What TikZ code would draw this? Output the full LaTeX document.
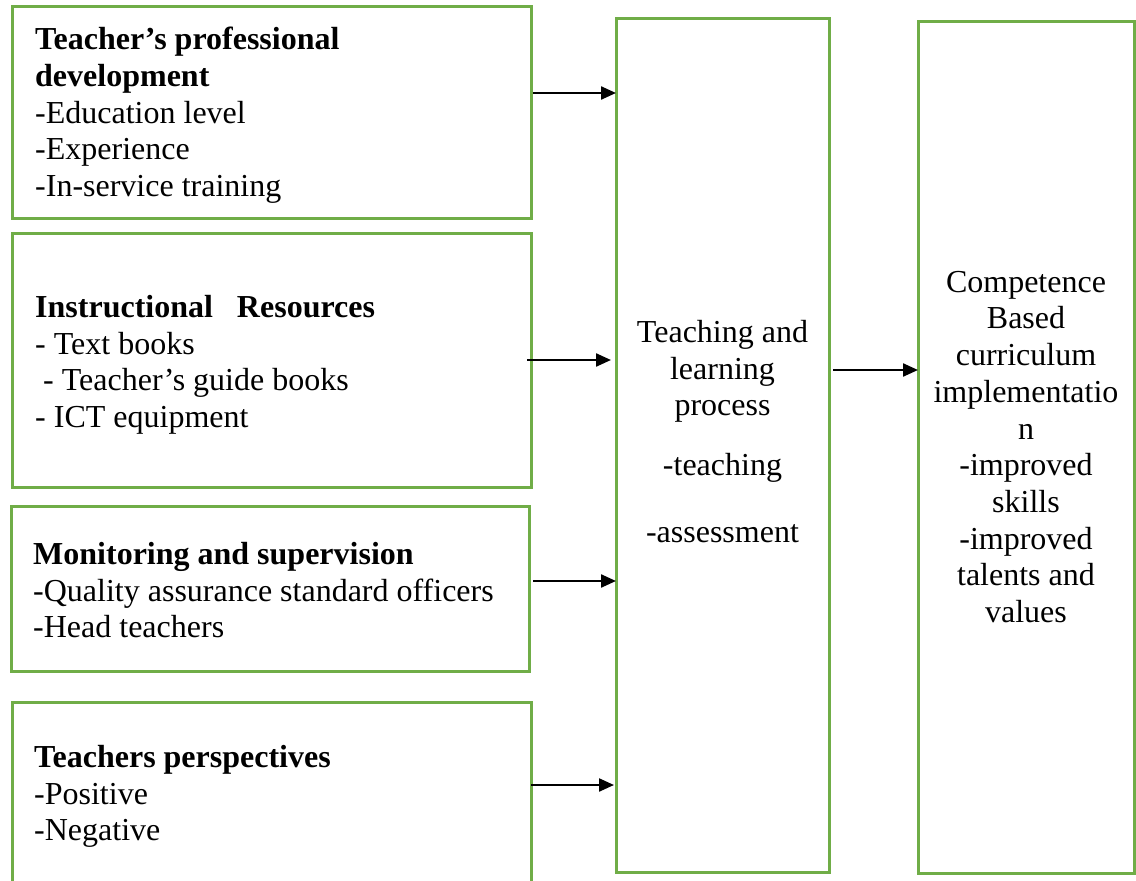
\documentclass[tikz,border=0pt]{standalone}
\usepackage{fontspec}
\setmainfont{Liberation Serif}
\usetikzlibrary{arrows.meta}
\definecolor{boxgreen}{HTML}{70AD47}
\tikzset{
  gbox/.style={draw=boxgreen, line width=3pt, rectangle, inner sep=0pt, outer sep=0pt},
  ltxt/.style={align=left, anchor=north west, inner sep=0pt, font=\fontsize{32}{36.7}\selectfont},
  ctxt/.style={align=center, anchor=north, inner sep=0pt, font=\fontsize{32}{36.7}\selectfont},
  arr/.style={line width=2.3pt, -{Triangle[length=15pt,width=13pt]}}
}
\newcommand{\fl}{\rule{0pt}{22pt}}
\begin{document}
\begin{tikzpicture}[x=1pt,y=-1pt]
\useasboundingbox (0,0) rectangle (1136,881);
\clip (0,0) rectangle (1136,881);
% boxes
\node[gbox, minimum width=519pt, minimum height=212pt] (b1) at (271.5,112) {};
\node[gbox, minimum width=519pt, minimum height=254pt] (b2) at (271.5,360) {};
\node[gbox, minimum width=518pt, minimum height=165pt] (b3) at (270,588.5) {};
\node[gbox, minimum width=519pt, minimum height=188pt] (b4) at (271.5,796) {};
\node[gbox, minimum width=213pt, minimum height=854pt] (mid) at (722.5,445) {};
\node[gbox, minimum width=216pt, minimum height=852pt] (res) at (1026,447) {};
% texts
\node[ltxt] (t1) at (35,27) {\fl\textbf{Teacher’s professional}\\\textbf{development}\\-Education level\\-Experience\\-In-service training};
\node[ltxt] (t2) at (35,295) {\fl\textbf{Instructional\ \ \ Resources}\\- Text books\\\hspace*{8pt}- Teacher’s guide books\\- ICT equipment};
\node[ltxt] (t3) at (33,542) {\fl\textbf{Monitoring and supervision}\\-Quality assurance standard officers\\-Head teachers};
\node[ltxt] (t4) at (34,745) {\fl\textbf{Teachers perspectives}\\-Positive\\-Negative};
\node[ctxt] (tm) at (722.5,320) {\fl Teaching and\\learning\\process\\[23.3pt]-teaching\\[30.3pt]-assessment};
\node[ctxt] (tr) at (1026,270) {\fl Competence\\Based\\curriculum\\implementatio\\n\\-improved\\skills\\-improved\\talents and\\values};
% arrows
\draw[arr] ([xshift=2pt,yshift=19pt]b1.east) -- ([yshift=19pt]b1.east -| mid.west);
\draw[arr] ([xshift=-4pt]b2.east) -- ([xshift=-5pt]b2.east -| mid.west);
\draw[arr] ([xshift=4pt,yshift=7.5pt]b3.east) -- ([yshift=7.5pt]b3.east -| mid.west);
\draw[arr] ([xshift=0pt,yshift=11pt]b4.east) -- ([xshift=-2pt,yshift=11pt]b4.east -| mid.west);
\draw[arr] ([xshift=4pt,yshift=77pt]res.west -| mid.east) -- ([yshift=77pt]res.west);
\end{tikzpicture}
\end{document}
